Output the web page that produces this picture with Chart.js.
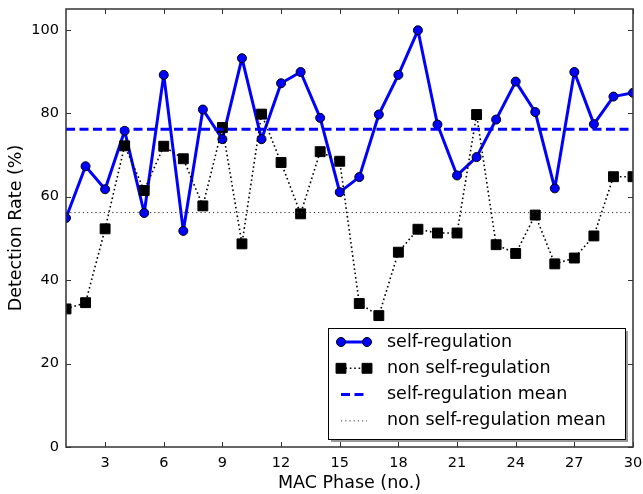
<!DOCTYPE html>
<html>
<head>
<meta charset="utf-8">
<script src="https://cdn.jsdelivr.net/npm/chart.js@4/dist/chart.umd.min.js"></script>
<style>
  html, body { margin: 0; padding: 0; background: #fff; }
  #wrap { width: 643px; height: 494px; }
</style>
</head>
<body>
<div id="wrap"><canvas id="rateChart" width="643" height="494"></canvas></div>
<script>
const phases = [1, 2, 3, 4, 5, 6, 7, 8, 9, 10, 11, 12, 13, 14, 15,
  16, 17, 18, 19, 20, 21, 22, 23, 24, 25, 26, 27, 28, 29, 30];
const selfRegulation = [54.9, 67.3, 61.8, 75.8, 56.1, 89.2, 51.8, 80.9, 73.8, 93.2,
  73.8, 87.2, 89.9, 78.9, 61.1, 64.7, 79.7, 89.2, 99.9, 77.3,
  65.1, 69.5, 78.5, 87.6, 80.3, 62.0, 89.9, 77.4, 84.0, 84.9];
const nonSelfRegulation = [33.1, 34.6, 52.3, 72.2, 61.5, 72.1, 69.1, 57.8, 76.6, 48.7,
  79.8, 68.2, 55.9, 70.8, 68.5, 34.4, 31.5, 46.7, 52.2, 51.3,
  51.3, 79.7, 48.5, 46.4, 55.6, 43.9, 45.3, 50.6, 64.8, 64.8];
const selfMean = 76.2;
const nonSelfMean = 56.2;
const xTicks = [3, 6, 9, 12, 15, 18, 21, 24, 27, 30];
const yTicks = [0, 20, 40, 60, 80, 100];
const seriesNames = ['self-regulation', 'non self-regulation',
  'self-regulation mean', 'non self-regulation mean'];

const FONT = 'DejaVu Sans';
const BLUE = '#0000ff';

const toPoints = (vals) => vals.map((v, i) => ({ x: phases[i], y: v }));
const flat = (v) => [{ x: phases[0], y: v }, { x: phases[phases.length - 1], y: v }];

// matplotlib-like frame with inward ticks on all four sides
const frameTicks = {
  id: 'frameTicks',
  afterDatasetsDraw(chart) {
    const { ctx, chartArea: a, scales } = chart;
    ctx.save();
    ctx.strokeStyle = '#333';
    ctx.lineWidth = 1;
    ctx.beginPath();
    xTicks.forEach(v => {
      const px = Math.round(scales.x.getPixelForValue(v)) + 0.5;
      ctx.moveTo(px, a.bottom); ctx.lineTo(px, a.bottom - 5);
      ctx.moveTo(px, a.top); ctx.lineTo(px, a.top + 5);
    });
    yTicks.forEach(v => {
      const py = Math.round(scales.y.getPixelForValue(v)) + 0.5;
      ctx.moveTo(a.left, py); ctx.lineTo(a.left + 5, py);
      ctx.moveTo(a.right, py); ctx.lineTo(a.right - 5, py);
    });
    ctx.stroke();
    ctx.lineWidth = 1.5;
    ctx.strokeRect(a.left, a.top, a.right - a.left, a.bottom - a.top);
    ctx.restore();
  }
};

// legend box in the lower right corner of the plot
const cornerLegend = {
  id: 'cornerLegend',
  afterDraw(chart) {
    const { ctx, chartArea: a } = chart;
    const w = 297, h = 111;
    const x0 = a.right - 8 - w, y0 = a.bottom - 8 - h;
    ctx.save();
    ctx.fillStyle = '#9a9a9a';
    ctx.fillRect(x0 + 3, y0 + 3, w, h);
    ctx.fillStyle = '#fff';
    ctx.fillRect(x0, y0, w, h);
    ctx.strokeStyle = '#000';
    ctx.lineWidth = 1;
    ctx.strokeRect(x0 + 0.5, y0 + 0.5, w, h);

    const sx1 = x0 + 13, sx2 = x0 + 39, tx = x0 + 59;
    chart.data.datasets.forEach((ds, i) => {
      const cy = y0 + 14 + i * 26.3;
      ctx.beginPath();
      ctx.setLineDash(ds.borderDash || []);
      ctx.strokeStyle = ds.borderColor;
      ctx.lineWidth = ds.borderWidth;
      ctx.moveTo(sx1, cy); ctx.lineTo(sx2, cy);
      ctx.stroke();
      ctx.setLineDash([]);
      if (ds.pointRadius > 0) {
        ctx.fillStyle = ds.pointBackgroundColor;
        ctx.strokeStyle = ds.pointBorderColor;
        ctx.lineWidth = ds.pointBorderWidth;
        [sx1, sx2].forEach(px => {
          Chart.helpers.drawPoint(ctx, {
            pointStyle: ds.pointStyle, radius: ds.pointRadius,
            borderWidth: ds.pointBorderWidth, rotation: 0
          }, px, cy);
        });
      }
      ctx.fillStyle = '#000';
      ctx.font = '17.5px "' + FONT + '"';
      ctx.textBaseline = 'middle';
      ctx.textAlign = 'left';
      ctx.fillText(ds.label, tx, cy);
    });
    ctx.restore();
  }
};

const chart = new Chart(document.getElementById('rateChart'), {
  type: 'line',
  data: {
    datasets: [
      {
        label: seriesNames[0],
        data: toPoints(selfRegulation),
        borderColor: BLUE,
        borderWidth: 3,
        borderJoinStyle: 'round',
        pointRadius: 4.5,
        pointStyle: 'circle',
        pointBackgroundColor: BLUE,
        pointBorderColor: '#000',
        pointBorderWidth: 1,
        clip: 0,
        order: 3,
      },
      {
        label: seriesNames[1],
        data: toPoints(nonSelfRegulation),
        borderColor: '#000',
        borderWidth: 1.6,
        borderDash: [1.6, 2.8],
        borderJoinStyle: 'round',
        pointRadius: 7,
        pointStyle: 'rect',
        pointBackgroundColor: '#000',
        pointBorderColor: '#000',
        pointBorderWidth: 1,
        clip: 0,
        order: 2,
      },
      {
        label: seriesNames[2],
        data: flat(selfMean),
        borderColor: BLUE,
        borderWidth: 3,
        borderDash: [9, 4.5],
        pointRadius: 0,
        clip: 0,
        order: 1,
      },
      {
        label: seriesNames[3],
        data: flat(nonSelfMean),
        borderColor: '#333',
        borderWidth: 1,
        borderDash: [1.2, 3],
        pointRadius: 0,
        clip: 0,
        order: 0,
      },
    ],
  },
  options: {
    responsive: false,
    animation: false,
    events: [],
    layout: { padding: { top: 9, right: 10, bottom: 0, left: 0 } },
    elements: { line: { tension: 0 } },
    plugins: { legend: { display: false }, tooltip: { enabled: false } },
    scales: {
      x: {
        type: 'linear',
        min: 1,
        max: 30,
        afterBuildTicks: (s) => { s.ticks = xTicks.map(v => ({ value: v })); },
        afterFit: (s) => { s.height = 47; s.paddingLeft = 0; s.paddingRight = 0; },
        grid: { display: false, drawTicks: false },
        border: { display: false },
        ticks: { color: '#000', padding: 8, maxRotation: 0, font: { family: FONT, size: 14.5 } },
        title: {
          display: true, text: 'MAC Phase (no.)', color: '#000',
          padding: { top: 0, bottom: 0 }, font: { family: FONT, size: 17.5 }
        },
      },
      y: {
        min: 0,
        max: 105,
        afterBuildTicks: (s) => { s.ticks = yTicks.map(v => ({ value: v })); },
        afterFit: (s) => { s.width = 66; s.paddingTop = 0; s.paddingBottom = 0; },
        grid: { display: false, drawTicks: false },
        border: { display: false },
        ticks: { color: '#000', padding: 7, font: { family: FONT, size: 14.5 } },
        title: {
          display: true, text: 'Detection Rate (%)', color: '#000',
          padding: { top: 6, bottom: 0 }, font: { family: FONT, size: 17.5 }
        },
      },
    },
  },
  plugins: [frameTicks, cornerLegend],
});
</script>
</body>
</html>
